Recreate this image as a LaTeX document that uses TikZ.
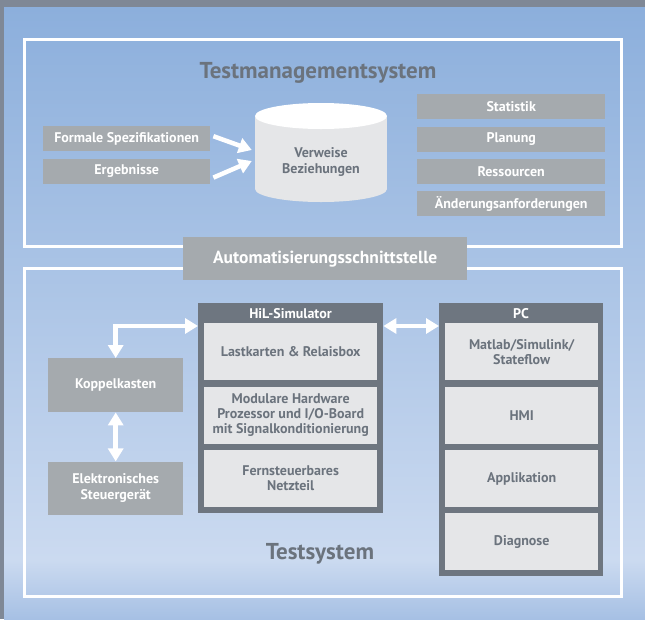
\documentclass[tikz,border=0pt]{standalone}
\usepackage{fontspec}
\setmainfont{PT Sans}
\usepackage{xcolor}
\usepackage{tikz}
\usetikzlibrary{arrows.meta,positioning,shapes.geometric}

\definecolor{outerGray}{HTML}{7F8896}
\definecolor{skyTop}{HTML}{8CAFDC}
\definecolor{skyMid}{HTML}{CBDAF0}
\definecolor{skyBottom}{HTML}{A6C0E4}
\definecolor{boxGray}{HTML}{A5AAAE}
\definecolor{frameGray}{HTML}{6E7680}
\definecolor{paleGray}{HTML}{E5E6E8}
\definecolor{labelGray}{HTML}{6B737D}

\begin{document}
\begin{tikzpicture}[
  x=1pt, y=-1pt,
  node distance=7pt,
  graybox/.style={fill=boxGray, text=white, font=\fontsize{14}{15.5}\selectfont\bfseries, inner sep=0pt, align=center},
  lightbox/.style={fill=paleGray, text=labelGray, font=\fontsize{14}{15}\selectfont\bfseries, inner sep=0pt, align=center, minimum height=57pt},
  darkframe/.style={fill=frameGray, inner sep=0pt, anchor=north west},
  headline/.style={text=white, font=\fontsize{14}{15.5}\selectfont\bfseries},
  bigtitle/.style={text=labelGray, font=\fontsize{23}{25}\selectfont\bfseries},
  frame/.style={draw=white, line width=3pt},
  arrow/.style={draw=white, line width=4.5pt, -{Triangle[length=13pt,width=15pt]}},
  dblarrow/.style={draw=white, line width=4.5pt, {Triangle[length=13pt,width=15pt]}-{Triangle[length=13pt,width=15pt]}}
]
\useasboundingbox (0,0) rectangle (645,619);
\fill[outerGray] (0,0) rectangle (645,619);
\shade[top color=skyTop, bottom color=skyMid] (4,7) rectangle (645,560);
\shade[top color=skyMid, bottom color=skyBottom] (4,560) rectangle (645,619);

\draw[frame] (24.5,39.5) rectangle (621.5,246.5);
\draw[frame] (24.5,268.5) rectangle (621.5,596.5);

\node[bigtitle] (tmsTitle) at (318,73) {Testmanagementsystem};
\node[bigtitle] (tsTitle) at (320,554) {Testsystem};

\node[graybox, minimum width=167pt, minimum height=25pt, anchor=north west] (formaleSpez) at (43,126) {Formale Spezifikationen};
\node[graybox, minimum width=167pt, minimum height=25pt, below=of formaleSpez] (ergebnisse) {Ergebnisse};

\node[graybox, minimum width=188pt, minimum height=25pt, anchor=north west] (statistik) at (417,94) {Statistik};
\node[graybox, minimum width=188pt, minimum height=25pt, below=of statistik] (planung) {Planung};
\node[graybox, minimum width=188pt, minimum height=25pt, below=of planung] (ressourcen) {Ressourcen};
\node[graybox, minimum width=188pt, minimum height=25pt, below=of ressourcen] (aenderungen) {Änderungsanforderungen};

\node[ellipse, fill=paleGray, inner sep=0pt, minimum width=132pt, minimum height=26pt] (dbBase) at (321,189) {};
\fill[paleGray] (255,116) rectangle (387,189);
\node[ellipse, fill=white, inner sep=0pt, minimum width=132pt, minimum height=26pt] (dbTop) at (321,116) {};
\node[text=labelGray, font=\fontsize{14}{15.5}\selectfont\bfseries, align=center, minimum width=132pt, inner sep=0pt] (verweise) at (321,162) {Verweise\\Beziehungen};

\draw[arrow] ([xshift=3pt,yshift=2.5pt]formaleSpez.east) -- ([xshift=-3pt,yshift=12pt]verweise.west);
\draw[arrow] ([xshift=3pt,yshift=-6.5pt]ergebnisse.east) -- ([xshift=-3pt,yshift=1pt]verweise.west);

\node[graybox, minimum width=284pt, minimum height=43pt, anchor=north west, font=\fontsize{17.5}{20}\selectfont\bfseries] (autoSchnitt) at (183,237) {Automatisierungsschnittstelle};

\node[darkframe, minimum width=185pt, minimum height=210pt] (hilSim) at (198,303) {};
\node[headline] (hilTitle) at (290.5,314) {HiL-Simulator};
\node[lightbox, minimum width=173pt, anchor=north west] (lastkarten) at (204,323) {Lastkarten \& Relaisbox};
\node[lightbox, minimum width=173pt, below=6pt of lastkarten] (modularHw) {Modulare Hardware\\Prozessor und I/O-Board\\mit Signalkonditionierung};
\node[lightbox, minimum width=173pt, below=6pt of modularHw] (netzteil) {Fernsteuerbares\\Netzteil};

\node[darkframe, minimum width=164pt, minimum height=273pt] (pcBox) at (439,303) {};
\node[headline] (pcTitle) at (521,314) {PC};
\node[lightbox, minimum width=153pt, anchor=north west] (matlab) at (445,323) {Matlab/Simulink/\\Stateflow};
\node[lightbox, minimum width=153pt, below=6pt of matlab] (hmi) {HMI};
\node[lightbox, minimum width=153pt, below=6pt of hmi] (applikation) {Applikation};
\node[lightbox, minimum width=153pt, below=6pt of applikation] (diagnose) {Diagnose};

\node[graybox, minimum width=135pt, minimum height=54pt, anchor=north west] (koppelkasten) at (48,358) {Koppelkasten};
\node[graybox, minimum width=135pt, minimum height=53pt, below=49pt of koppelkasten] (steuergeraet) {Elektronisches\\Steuergerät};

\coordinate (hilPort) at (198,326);
\coordinate (pcPort) at (439,326);
\draw[dblarrow] (koppelkasten.north) |- (hilPort);
\draw[dblarrow] (hilSim.east |- hilPort) -- (pcPort);
\draw[dblarrow] (koppelkasten.south) -- (steuergeraet.north);
\end{tikzpicture}
\end{document}
